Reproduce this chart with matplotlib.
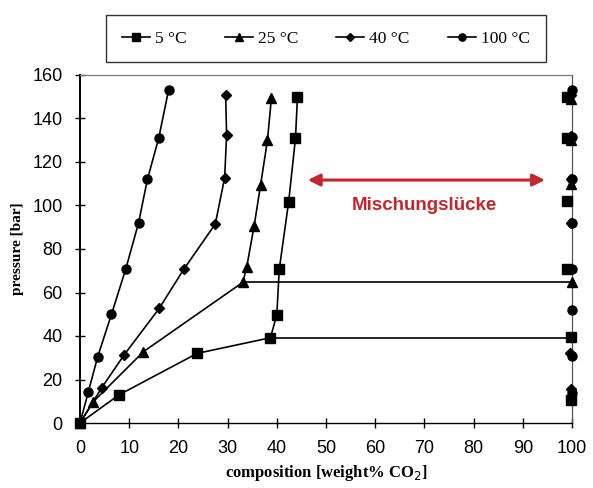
import matplotlib
matplotlib.use("Agg")
import matplotlib.pyplot as plt
from matplotlib.lines import Line2D

# CO2-poor (water-rich) branch: composition [wt% CO2] and pressure [bar]
x_5 = [0, 7.9, 23.8, 38.7, 40.0, 40.5, 42.4, 43.8, 44.2]
p_5 = [0, 12.9, 32.0, 39.2, 49.7, 70.7, 101.5, 131.0, 150.0]
x_25 = [0, 2.7, 12.9, 33.1, 33.9, 35.4, 36.7, 38.1, 38.9]
p_25 = [0, 9.8, 32.8, 64.7, 71.9, 90.7, 109.4, 130.0, 149.3]
x_40 = [0, 4.4, 9.0, 16.1, 21.1, 27.5, 29.4, 29.8, 29.6]
p_40 = [0, 16.2, 31.4, 52.7, 70.7, 91.5, 112.8, 132.4, 151.0]
x_100 = [0, 1.7, 3.6, 6.4, 9.3, 11.9, 13.7, 16.0, 18.0]
p_100 = [0, 14.4, 30.5, 50.0, 70.8, 92.0, 112.0, 131.0, 153.0]

# CO2-rich branch near pure CO2
xr_5 = [99.8, 99.8, 99.0, 99.0, 99.0, 99.0]
pr_5 = [10.5, 39.4, 71.0, 102.0, 131.0, 150.0]
xr_25 = [99.8, 99.9, 99.8, 99.8, 99.8]
pr_25 = [12.0, 64.7, 110.0, 130.0, 149.0]
xr_40 = [99.8, 99.6, 99.8, 99.8, 99.8, 99.8, 99.8]
pr_40 = [15.5, 32.0, 71.0, 92.0, 112.0, 132.0, 151.0]
xr_100 = [100.0, 100.0, 100.0, 100.0, 100.0, 100.0, 100.0, 100.0]
pr_100 = [14.0, 31.0, 52.0, 71.0, 92.0, 112.0, 131.5, 153.0]

# three-phase pressures (horizontal tie lines)
tie_5 = 39.2
tie_25 = 64.7

labels = ["5 °C", "25 °C", "40 °C", "100 °C"]
markers = ["s", "^", "D", "o"]
msizes = [6.5, 6.5, 5.2, 6.5]

fig = plt.figure(figsize=(5.93, 4.88), dpi=100)
ax = fig.add_axes([80 / 593, 1 - 423 / 488, 492 / 593, 348 / 488])

series = [(x_5, p_5, xr_5, pr_5), (x_25, p_25, xr_25, pr_25),
          (x_40, p_40, xr_40, pr_40), (x_100, p_100, xr_100, pr_100)]
for (xs, ps, xr, pr), m, ms in zip(series, markers, msizes):
    ax.plot(xs, ps, color="black", lw=1.2, marker=m, ms=ms, zorder=3,
            clip_on=False)
    ax.plot(xr, pr, ls="none", color="black", marker=m, ms=ms, zorder=3,
            clip_on=False)

ax.plot([x_5[3], 100], [tie_5, tie_5], color="black", lw=1.2, zorder=2)
ax.plot([x_25[3], 100], [tie_25, tie_25], color="black", lw=1.2, zorder=2)

ax.set_xlim(0, 100)
ax.set_ylim(0, 160)
ax.set_xticks(range(0, 101, 10))
ax.set_yticks(range(0, 161, 20))
ax.tick_params(direction="inout", length=7, width=1, labelsize=13,
               colors="black")
ax.tick_params(axis="y", pad=9)
ax.tick_params(axis="x", pad=9)
for lab in ax.get_xticklabels() + ax.get_yticklabels():
    lab.set_fontfamily("Liberation Sans")
ax.spines["left"].set_linewidth(1.4)
ax.spines["bottom"].set_linewidth(1.0)
ax.spines["top"].set_color("#777777")
ax.spines["top"].set_linewidth(0.9)
ax.spines["right"].set_color("#555555")
ax.spines["right"].set_linewidth(0.9)

ax.set_xlabel("composition [weight% CO$_2$]", fontfamily="Liberation Serif",
              fontweight="bold", fontsize=12, labelpad=4)
ax.set_ylabel("pressure [bar]", fontfamily="Liberation Serif",
              fontweight="bold", fontsize=11, labelpad=6)

red = "#c1272d"
ax.annotate("", xy=(46.3, 111.7), xytext=(94.5, 111.7),
            arrowprops=dict(arrowstyle="<|-|>", color=red, lw=2.2,
                            mutation_scale=18, shrinkA=0, shrinkB=0))
ax.text(70, 100, "Mischungslücke", color=red, fontsize=13.5,
        fontweight="bold", fontfamily="Liberation Sans",
        ha="center", va="center")

handles = [Line2D([], [], color="black", lw=1.2, marker=m, ms=ms * 0.8)
           for m, ms in zip(markers, msizes)]
leg = fig.legend(handles, labels, loc="center",
                 bbox_to_anchor=(326 / 593, 1 - 38.5 / 488), ncol=4,
                 frameon=True, fancybox=False, edgecolor="black",
                 handlelength=1.6, handletextpad=0.3, columnspacing=2.2,
                 prop={"family": "Liberation Serif", "size": 12.5},
                 borderpad=0.9, borderaxespad=0)
leg.get_frame().set_linewidth(1.0)

fig.savefig("out.png", dpi=100)
